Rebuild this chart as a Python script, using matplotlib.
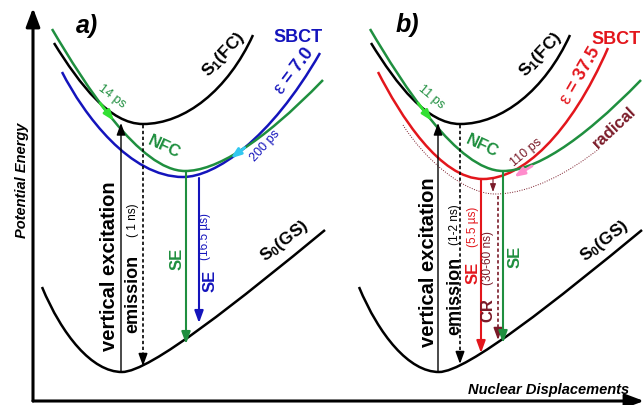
import matplotlib
matplotlib.use('Agg')
import matplotlib.pyplot as plt
from matplotlib.path import Path
from matplotlib.patches import PathPatch

plt.rcParams['font.family'] = ['Liberation Sans', 'DejaVu Sans']
plt.rcParams['mathtext.fontset'] = 'custom'
plt.rcParams['mathtext.rm'] = 'Liberation Sans'
plt.rcParams['mathtext.bf'] = 'Liberation Sans:bold'
plt.rcParams['mathtext.it'] = 'Liberation Sans:italic'

W, H = 644, 405
GREEN = '#1f8f3f'
BLUE = '#1414bc'
RED = '#e3161c'
DRED = '#7a1a28'
LGREEN = '#33e033'
CYAN = '#33c8f0'
PINK = '#ff8ccc'

# ---- potential curves: cubic Bezier control points (left branch, minimum, right branch)
s0_a = [(42, 287), (62, 335), (92, 372), (122, 372), (150, 372), (240, 300), (325, 230)]
s1_a = [(54, 43), (80, 85), (110, 124), (143, 124), (185, 124), (228, 90), (253, 35)]
nfc_a = [(52, 29), (85, 85), (140, 171), (185, 171), (215, 171), (260, 145), (323, 80)]
sbct_a = [(62, 72), (84, 115), (130, 177), (183, 177), (215, 177), (270, 140), (320, 53)]

s0_b = [(359, 287), (379, 335), (409, 372), (439, 372), (467, 372), (557, 300), (642, 230)]
s1_b = [(371, 43), (397, 85), (427, 124), (460, 124), (502, 124), (545, 90), (570, 35)]
nfc_b = [(370, 29), (403, 85), (458, 171), (503, 171), (533, 171), (578, 145), (641, 80)]
sbct_b = [(378, 72), (400, 115), (440, 179), (483, 179), (522, 179), (570, 135), (608, 48)]
radical_b = [(403, 125), (425, 160), (465, 194), (495, 194), (530, 194), (570, 172), (600, 148)]

# ---- vertical transitions: x, y_start, y_end, color, style, width
transitions = [
    (121, 372, 123, 'black', '-', 1.0),
    (143, 125, 366, 'black', '--', 1.2),
    (186, 172, 344, GREEN, '-', 1.5),
    (199, 178, 323, BLUE, '-', 1.5),
    (438, 372, 123, 'black', '-', 1.0),
    (460, 125, 364, 'black', '--', 1.2),
    (481, 180, 353, RED, '-', 1.5),
    (498, 196, 340, DRED, '--', 1.2),
    (503, 172, 343, GREEN, '-', 1.5),
]

# ---- labels: text, x, y, rotation, size, color, weight, style
labels = [
    ('a)', 87, 26, 0, 18, 'black', 'bold', 'italic'),
    ('b)', 407, 25, 0, 18, 'black', 'bold', 'italic'),
    ('SBCT', 298, 38, 0, 13, BLUE, 'bold', 'normal'),
    ('SBCT', 616, 39, 0, 13, RED, 'bold', 'normal'),
    (r'S$_\mathbf{1}$(FC)', 224, 54, 47, 12.5, 'black', 'bold', 'normal'),
    (r'S$_\mathbf{1}$(FC)', 541, 54, 47, 12.5, 'black', 'bold', 'normal'),
    (r'$\mathrm{\varepsilon}$ = 7.0', 294, 71, 53, 13, BLUE, 'bold', 'normal'),
    (r'$\mathrm{\varepsilon}$ = 37.5', 581, 76, 60, 13, RED, 'bold', 'normal'),
    ('14 ps', 112, 96, -37, 9, GREEN, 'normal', 'normal'),
    ('11 ps', 431, 97, -40, 9, GREEN, 'normal', 'normal'),
    ('200 ps', 265, 146, 48, 9, BLUE, 'normal', 'normal'),
    ('110 ps', 526, 153, 40, 9, DRED, 'normal', 'normal'),
    ('NFC', 164, 147, -25, 12, GREEN, 'bold', 'normal'),
    ('NFC', 482, 146, -25, 12, GREEN, 'bold', 'normal'),
    ('radical', 614, 128, 43, 12, DRED, 'bold', 'normal'),
    (r'S$_\mathbf{0}$(GS)', 285, 241, 38, 12.5, 'black', 'bold', 'normal'),
    (r'S$_\mathbf{0}$(GS)', 605, 241, 38, 12.5, 'black', 'bold', 'normal'),
    ('vertical excitation', 110, 266, 90, 14.5, 'black', 'bold', 'normal'),
    ('vertical excitation', 429, 262, 90, 14.5, 'black', 'bold', 'normal'),
    ('emission', 133, 294, 90, 13, 'black', 'bold', 'normal'),
    ('( 1 ns)', 133, 220, 90, 8.5, 'black', 'normal', 'normal'),
    ('emission', 455, 296, 90, 13, 'black', 'bold', 'normal'),
    ('(1-2 ns)', 455, 225, 90, 8.5, 'black', 'normal', 'normal'),
    ('SE', 177, 259, 90, 12, GREEN, 'bold', 'normal'),
    ('SE', 210, 281, 90, 12, BLUE, 'bold', 'normal'),
    ('(16.5 µs)', 205, 237, 90, 8.5, BLUE, 'normal', 'normal'),
    ('SE', 473, 273, 90, 12, RED, 'bold', 'normal'),
    ('(5.5 µs)', 473, 227, 90, 8.5, RED, 'normal', 'normal'),
    ('CR', 488, 310, 90, 12, DRED, 'bold', 'normal'),
    ('(30-60 ns)', 488, 258, 90, 8.5, DRED, 'normal', 'normal'),
    ('SE', 515, 257, 90, 12, GREEN, 'bold', 'normal'),
    ('Potential Energy', 22, 180, 90, 10.5, 'black', 'bold', 'italic'),
    ('Nuclear Displacements', 549, 390, 0, 10.5, 'black', 'bold', 'italic'),
]

fig = plt.figure(figsize=(6.44, 4.05), dpi=100)
ax = fig.add_axes([0, 0, 1, 1])
ax.set_xlim(0, W)
ax.set_ylim(H, 0)
ax.axis('off')


def curve(pts, color, lw=1.8, ls='-'):
    codes = [Path.MOVETO] + [Path.CURVE4] * (len(pts) - 1)
    ax.add_patch(PathPatch(Path(pts, codes), fill=False, edgecolor=color,
                           lw=lw, linestyle=ls, capstyle='butt', zorder=2))


def bez(pts, seg, t):
    p = pts[seg * 3: seg * 3 + 4]
    a, b, c, d = (1 - t) ** 3, 3 * t * (1 - t) ** 2, 3 * t ** 2 * (1 - t), t ** 3
    return (a * p[0][0] + b * p[1][0] + c * p[2][0] + d * p[3][0],
            a * p[0][1] + b * p[1][1] + c * p[2][1] + d * p[3][1])


def arrow(p0, p1, color, lw=1.5, ms=12, hl=0.6, hw=0.22, z=4):
    ax.annotate('', xy=p1, xytext=p0,
                arrowprops=dict(arrowstyle=f'-|>,head_length={hl},head_width={hw}',
                                color=color, lw=lw, shrinkA=0, shrinkB=0,
                                mutation_scale=ms), zorder=z)


# axes arrows
arrow((33, 401), (33, 8), 'black', lw=2.2, ms=14, hl=0.8, hw=0.3)
arrow((33, 401), (644, 401), 'black', lw=2.2, ms=14, hl=0.8, hw=0.3)

# curves
curve(s0_a, 'black')
curve(s1_a, 'black')
curve(sbct_a, BLUE)
curve(nfc_a, GREEN)
curve(s0_b, 'black')
curve(s1_b, 'black')
curve(radical_b, DRED, lw=0.7, ls=(0, (1, 1.5)))
curve(sbct_b, RED)
curve(nfc_b, GREEN)

# vertical transitions
for x, y0, y1, col, ls, lw in transitions:
    d = 1 if y1 > y0 else -1
    if ls == '-':
        arrow((x, y0), (x, y1), col, lw=lw)
    else:
        ax.plot([x, x], [y0, y1 - d * 6], color=col, lw=lw, ls=(0, (2, 1.5)), zorder=3)
        arrow((x, y1 - d * 8), (x, y1), col, lw=lw)

# small kinetic arrows along curves
arrow(bez(nfc_a, 0, 0.40), bez(nfc_a, 0, 0.50), LGREEN, lw=2, ms=10)
arrow(bez(nfc_b, 0, 0.40), bez(nfc_b, 0, 0.50), LGREEN, lw=2, ms=10)
arrow(bez(sbct_a, 1, 0.50), bez(sbct_a, 1, 0.40), CYAN, lw=2, ms=10)
arrow((532, 166), (514, 177), PINK, lw=2, ms=10)
arrow((493, 179), (493, 192), DRED, lw=0.8, ms=8)

for txt, x, y, rot, size, col, wt, st in labels:
    ax.text(x, y, txt, rotation=rot, fontsize=size, color=col, fontweight=wt,
            fontstyle=st, ha='center', va='center', rotation_mode='anchor', zorder=5)

fig.savefig('out.png', dpi=100)
